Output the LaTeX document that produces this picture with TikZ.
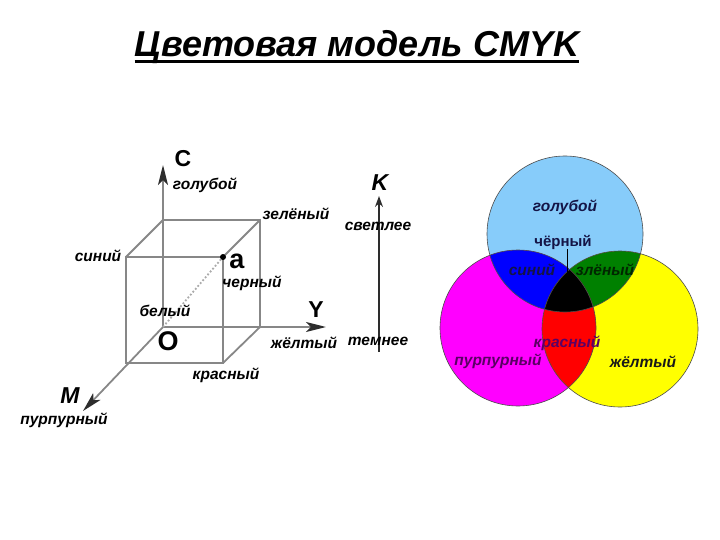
\documentclass[tikz,border=0pt]{standalone}
\usepackage{fontspec}
\setmainfont{Liberation Sans}
\usetikzlibrary{arrows.meta}
\definecolor{cyanc}{RGB}{135,204,250}
\definecolor{magc}{RGB}{255,0,255}
\definecolor{yelc}{RGB}{255,255,0}
\definecolor{bluec}{RGB}{0,0,255}
\definecolor{greenc}{RGB}{0,128,0}
\definecolor{redc}{RGB}{255,0,0}
\definecolor{edgec}{RGB}{135,135,135}
\definecolor{arrc}{RGB}{45,45,45}
\definecolor{purptext}{RGB}{90,0,100}
\definecolor{navytext}{RGB}{20,20,70}
\tikzset{
  cubeline/.style={draw=edgec, line width=1.8pt},
  axisline/.style={draw=edgec, line width=1.8pt, -{Stealth[length=20pt,width=10pt,inset=5pt,color=arrc,fill=arrc]}},
  lbl/.style={font=\bfseries\itshape\fontsize{15.5}{15.5}\selectfont, inner sep=0pt},
  axlbl/.style={font=\bfseries\itshape\fontsize{23}{23}\selectfont, inner sep=0pt},
  axlblup/.style={font=\bfseries\fontsize{23}{23}\selectfont, inner sep=0pt},
  biglbl/.style={font=\bfseries\fontsize{27}{27}\selectfont, inner sep=0pt},
  vlbl/.style={font=\bfseries\itshape\fontsize{15.5}{15.5}\selectfont, inner sep=0pt},
  circ/.style={draw=black!70, line width=0.6pt},
}
\begin{document}
\begin{tikzpicture}[x=1pt,y=-1pt]
\useasboundingbox (0,0) rectangle (720,540);
% title
\node[font=\bfseries\itshape\fontsize{36}{36}\selectfont, inner sep=0pt] (title) at (357,47) {Цветовая модель CMYK};
\draw[line width=2.6pt] ([yshift=-5pt]title.base west) -- ([yshift=-5pt]title.base east);

% cube corners
\coordinate (O) at (163,327);
\coordinate (BTL) at (163,220);
\coordinate (BTR) at (260,220);
\coordinate (BBR) at (260,327);
\coordinate (FTL) at (126,257);
\coordinate (FTR) at (223,257);
\coordinate (FBL) at (126,363);
\coordinate (FBR) at (223,363);
\coordinate (Cend) at (163,165);
\coordinate (Yend) at (326,327);
\coordinate (Mend) at (83,411);

\draw[cubeline] (BTL) -- (BTR) -- (BBR);
\draw[cubeline] (FTL) -- (FTR) -- (FBR) -- (FBL) -- cycle;
\draw[cubeline] (BTL) -- (FTL);
\draw[cubeline] (BTR) -- (FTR);
\draw[cubeline] (BBR) -- (FBR);
\draw[axisline] (O) -- (Cend);
\draw[axisline] (O) -- (Yend);
\draw[axisline] (O) -- (Mend);
\draw[draw=edgec!70, line width=1.8pt, dotted] (O) -- (FTR);
\fill[black] (FTR) circle (3pt);

% cube labels
\node[axlblup] (Clbl) at (183,159) {C};
\node[lbl] (golub) at (205,185) {голубой};
\node[lbl] (zelen) at (296,214) {зелёный};
\node[lbl] (sin) at (98,256) {синий};
\node[biglbl] (alb) at (237,261) {a};
\node[lbl] (cher) at (252,283) {черный};
\node[lbl] (bel) at (165,311) {белый};
\node[axlblup] (Ylbl) at (316,310) {Y};
\node[biglbl] (Olbl) at (168,341) {O};
\node[lbl] (zhelt) at (304,343) {жёлтый};
\node[lbl] (kras) at (226,375) {красный};
\node[axlbl] (Mlbl) at (70,396) {M};
\node[lbl] (purp) at (64,420) {пурпурный};

% K axis
\coordinate (Kbot) at (379,352);
\coordinate (Ktop) at (379,196);
\draw[draw=arrc, line width=1.3pt, -{Stealth[length=11pt,width=8pt]}] (Kbot) -- (Ktop);
\node[axlbl] (Klbl) at (380,183) {K};
\node[lbl] (svet) at (378,226) {светлее};
\node[lbl] (temn) at (378,341) {темнее};

% Venn
\coordinate (VC) at (565,234);
\coordinate (VM) at (518,328);
\coordinate (VY) at (620,329);
\fill[cyanc] (VC) circle (78pt);
\fill[magc] (VM) circle (78pt);
\fill[yelc] (VY) circle (78pt);
\begin{scope}
  \clip (VC) circle (78pt);
  \fill[bluec] (VM) circle (78pt);
  \fill[greenc] (VY) circle (78pt);
\end{scope}
\begin{scope}
  \clip (VM) circle (78pt);
  \fill[redc] (VY) circle (78pt);
\end{scope}
\begin{scope}
  \clip (VC) circle (78pt);
  \clip (VM) circle (78pt);
  \fill[black] (VY) circle (78pt);
\end{scope}
\draw[circ] (VC) circle (78pt);
\draw[circ] (VM) circle (78pt);
\draw[circ] (VY) circle (78pt);

\node[vlbl, text=navytext] (vgol) at (565,207) {голубой};
\node[font=\bfseries\fontsize{15}{15}\selectfont, inner sep=0pt, text=navytext] (vcher) at (563,242) {чёрный};
\coordinate (vcherend) at (567,274);
\draw[black, line width=0.8pt] (567,249) -- (vcherend);
\node[vlbl, text=navytext] (vsin) at (532,270) {синий};
\node[vlbl, text=black!85!green] (vzel) at (605,270) {злёный};
\node[vlbl, text=purptext] (vkras) at (567,343) {красный};
\node[vlbl, text=purptext] (vpurp) at (498,361) {пурпурный};
\node[vlbl, text=black!90] (vzhel) at (643,362) {жёлтый};
\end{tikzpicture}
\end{document}
